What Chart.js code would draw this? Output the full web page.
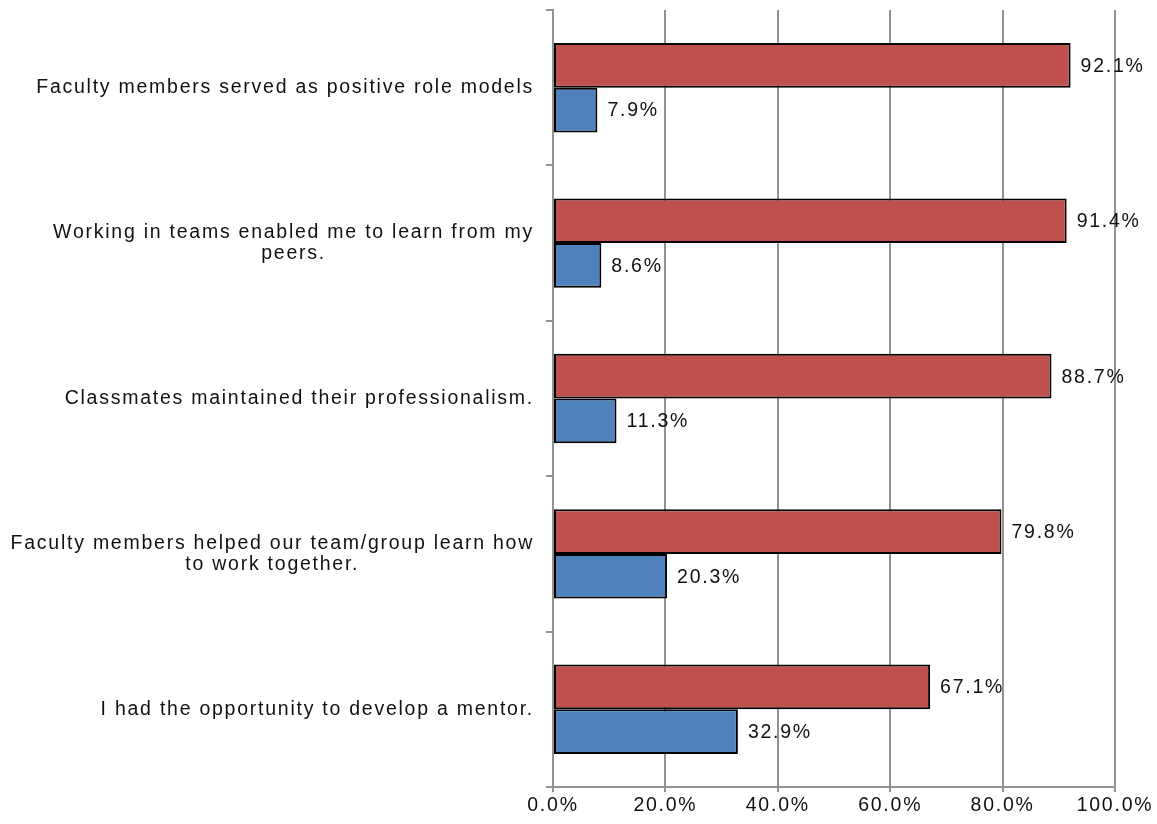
<!DOCTYPE html>
<html>
<head>
<meta charset="utf-8">
<title>Survey results</title>
<script src="https://cdn.jsdelivr.net/npm/chart.js@4/dist/chart.umd.min.js"></script>
<style>
    html, body { margin: 0; padding: 0; background: #fff; }
    #wrap { width: 1157px; height: 824px; position: relative; }
</style>
</head>
<body>
<div id="wrap"><canvas id="chart"></canvas></div>
<script>
// categories (multi-line ones are arrays)
const categories = [
    ['Faculty members served as positive role models'],
    ['Working in teams enabled me to learn from my', 'peers.'],
    ['Classmates maintained their professionalism.'],
    ['Faculty members helped our team/group learn how', 'to work together.'],
    ['I had the opportunity to develop a mentor.']
];
const agreeValues = [92.1, 91.4, 88.7, 79.8, 67.1];
const disagreeValues = [7.9, 8.6, 11.3, 20.3, 32.9];
const xTicks = [0, 20, 40, 60, 80, 100];

const FONT_FAMILY = '"Liberation Sans", Arial, sans-serif';
const FONT_SIZE = 19.5;
const FONT = FONT_SIZE + 'px ' + FONT_FAMILY;
const SPACING = '1.75px';
const TEXT_COLOR = '#111';

// 画分类标签和数值标签（带字间距）
const textPlugin = {
    id: 'textPlugin',
    beforeDraw: function(chart) {
        chart.ctx.letterSpacing = SPACING;
    },
    afterDatasetsDraw: function(chart) {
        const ctx = chart.ctx;
        const yScale = chart.scales.y;
        ctx.save();
        ctx.letterSpacing = SPACING;
        ctx.font = FONT;
        ctx.fillStyle = TEXT_COLOR;
        ctx.textBaseline = 'middle';

        // y labels
        const rightEdge = chart.chartArea.left - 19;
        const lineH = 21;
        categories.forEach(function(lines, i) {
            const cy = yScale.getPixelForValue(i);
            const widths = lines.map(function(l) { return ctx.measureText(l).width; });
            const maxW = Math.max.apply(null, widths);
            const cx = rightEdge - maxW / 2;
            ctx.textAlign = 'center';
            lines.forEach(function(l, j) {
                const y = cy + (j - (lines.length - 1) / 2) * lineH;
                ctx.fillText(l, cx, y);
            });
        });

        // value labels
        ctx.textAlign = 'left';
        chart.data.datasets.forEach(function(ds, di) {
            const meta = chart.getDatasetMeta(di);
            meta.data.forEach(function(bar, i) {
                ctx.fillText(ds.data[i].toFixed(1) + '%', bar.x + 10, bar.y + 1);
            });
        });
        ctx.restore();
    }
};

new Chart(document.getElementById('chart'), {
    type: 'bar',
    data: {
        labels: categories,
        datasets: [{
            label: 'Agree',
            data: agreeValues,
            backgroundColor: '#C0504D',
            borderColor: '#000',
            borderWidth: 2,
            borderSkipped: false,
            categoryPercentage: 0.575,
            barPercentage: 1.0
        }, {
            label: 'Disagree',
            data: disagreeValues,
            backgroundColor: '#4F81BD',
            borderColor: '#000',
            borderWidth: 2,
            borderSkipped: false,
            categoryPercentage: 0.575,
            barPercentage: 1.0
        }]
    },
    options: {
        indexAxis: 'y',
        responsive: true,
        maintainAspectRatio: false,
        animation: false,
        layout: {
            padding: { top: 10, right: 42, bottom: 0, left: 0 }
        },
        plugins: {
            legend: { display: false },
            tooltip: { enabled: false }
        },
        scales: {
            x: {
                min: 0,
                max: 100,
                afterBuildTicks: function(scale) {
                    scale.ticks = xTicks.map(function(v) { return { value: v }; });
                },
                afterFit: function(scale) {
                    scale.height = 37;
                    scale.paddingLeft = 0;
                    scale.paddingRight = 0;
                },
                grid: {
                    color: '#929292',
                    lineWidth: 2,
                    tickLength: 5
                },
                border: { color: '#929292', width: 2 },
                ticks: {
                    padding: 2,
                    color: TEXT_COLOR,
                    font: { family: FONT_FAMILY, size: FONT_SIZE },
                    maxRotation: 0,
                    callback: function(value) {
                        return Number(value).toFixed(1) + '%';
                    }
                }
            },
            y: {
                type: 'category',
                offset: true,
                afterFit: function(scale) {
                    scale.width = 553;
                },
                grid: {
                    offset: true,
                    drawOnChartArea: false,
                    color: '#929292',
                    lineWidth: 2,
                    tickLength: 7
                },
                border: { color: '#929292', width: 2 },
                ticks: { display: false }
            }
        }
    },
    plugins: [textPlugin]
});
</script>
</body>
</html>
